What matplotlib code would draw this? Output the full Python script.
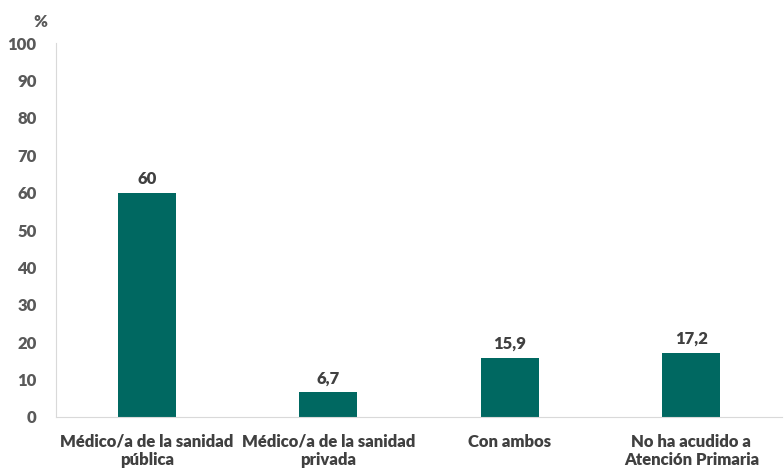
import numpy as np
import matplotlib.pyplot as plt

# Datos
categorias = ['Médico/a de la sanidad\npública', 'Médico/a de la sanidad\nprivada',
              'Con ambos', 'No ha acudido a\nAtención Primaria']
valores = [60, 6.7, 15.9, 17.2]
etiquetas = ['60', '6,7', '15,9', '17,2']

plt.rcParams['font.family'] = ['Lato', 'DejaVu Sans']
plt.rcParams['font.weight'] = 'bold'

fig = plt.figure(figsize=(7.84, 4.68), dpi=100)
ax = fig.add_axes([0.0715, 0.109, 0.926, 0.799])

x = np.arange(len(categorias))
ax.bar(x, valores, width=0.32, color='#006861')

for xi, v, t in zip(x, valores, etiquetas):
    ax.text(xi, v + 1.5, t, ha='center', va='bottom', fontsize=12,
            fontweight='heavy', color='#404040')

ax.set_xlim(-0.5, len(categorias) - 0.5)
ax.set_ylim(0, 100)
ax.set_yticks(np.arange(0, 101, 10))
ax.set_xticks(x)
ax.set_xticklabels(categorias, fontsize=12, fontweight='heavy', color='#404040',
                   linespacing=1.2)
ax.tick_params(axis='y', labelsize=12, colors='#595959', length=0, pad=14)
ax.tick_params(axis='x', length=0, pad=12)
for lab in ax.get_yticklabels():
    lab.set_fontweight('heavy')

for s in ['top', 'right']:
    ax.spines[s].set_visible(False)
ax.spines['left'].set_color('#d9d9d9')
ax.spines['bottom'].set_color('#d9d9d9')

fig.text(0.052, 0.952, '%', ha='center', va='center', fontsize=12,
         fontweight='heavy', color='#595959')

fig.savefig('out.png', dpi=100)
